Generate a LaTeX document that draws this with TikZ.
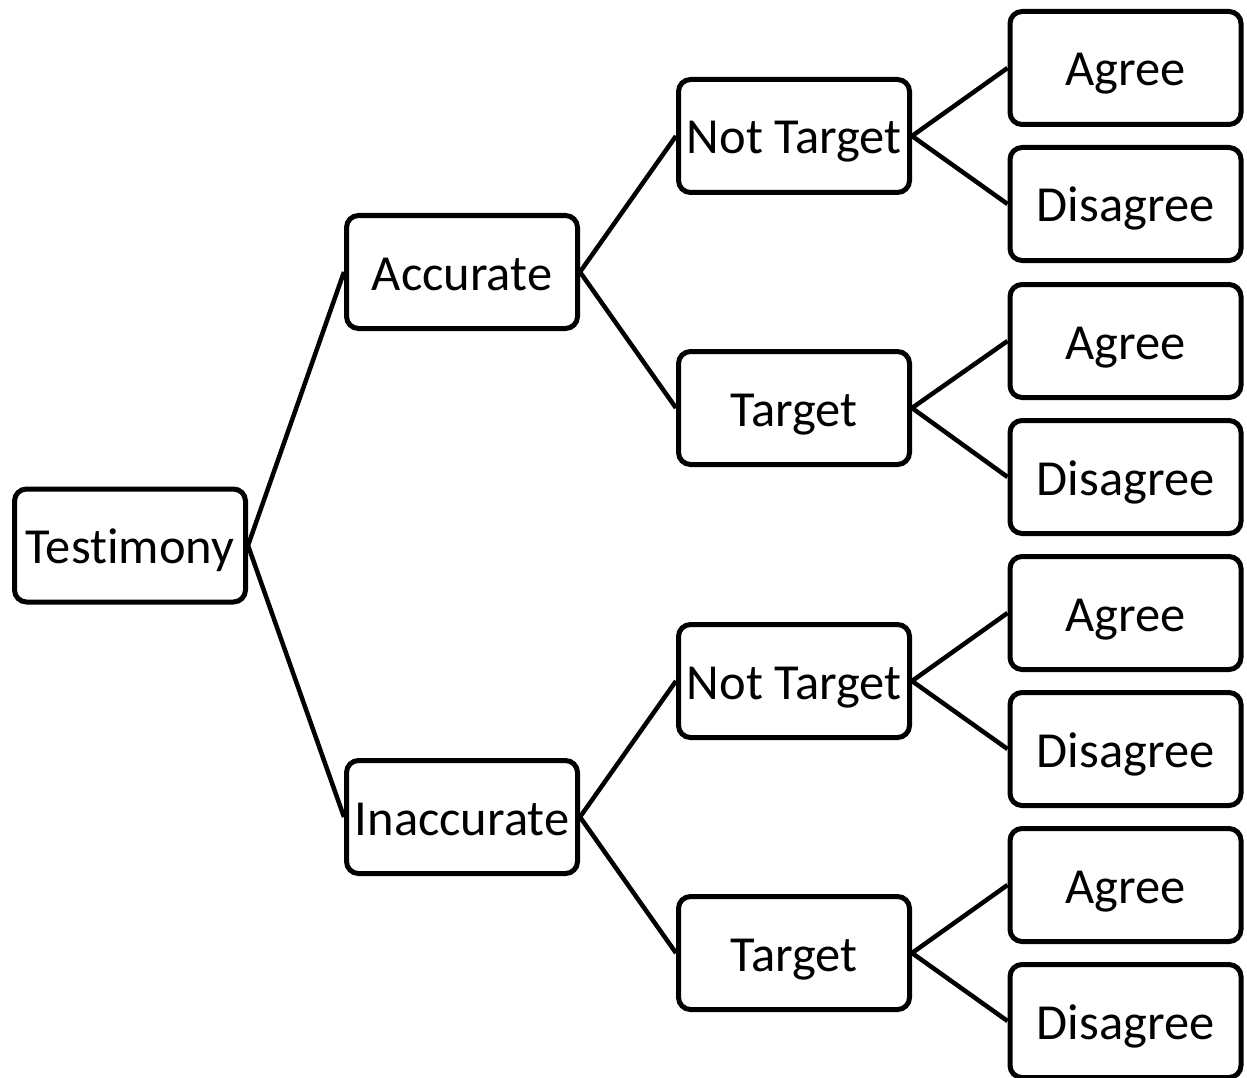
\documentclass[tikz,border=0pt]{standalone}
\usepackage{fontspec}
\setmainfont{Carlito}[Ligatures=NoCommon]
\begin{document}
\begin{tikzpicture}[x=1pt,y=-1pt,
  box/.style={draw=black,line width=5pt,rounded corners=12pt,fill=white,
    minimum width=231pt,minimum height=113pt,inner sep=0pt,
    text height=44pt,text depth=8pt,
    font=\fontsize{50.5}{54}\selectfont},
  link/.style={line width=4.5pt}]
\useasboundingbox (0,0) rectangle (1247,1078);
\node[box] (t) at (130,545.5) {Testimony};
\node[box] (a) at (462,272) {Accurate};
\node[box] (i) at (462,817) {Inaccurate};
\node[box] (an) at (794,136) {Not Target};
\node[box] (at) at (794,408) {Target};
\node[box] (in) at (794,681) {Not Target};
\node[box] (it) at (794,953) {Target};
\node[box] (l1) at (1125.5,68) {Agree};
\node[box] (l2) at (1125.5,204) {Disagree};
\node[box] (l3) at (1125.5,341) {Agree};
\node[box] (l4) at (1125.5,477) {Disagree};
\node[box] (l5) at (1125.5,613) {Agree};
\node[box] (l6) at (1125.5,749) {Disagree};
\node[box] (l7) at (1125.5,885) {Agree};
\node[box] (l8) at (1125.5,1021) {Disagree};
\draw[link] (t.east) -- (a.west);
\draw[link] (t.east) -- (i.west);
\draw[link] (a.east) -- (an.west);
\draw[link] (a.east) -- (at.west);
\draw[link] (i.east) -- (in.west);
\draw[link] (i.east) -- (it.west);
\draw[link] (an.east) -- (l1.west);
\draw[link] (an.east) -- (l2.west);
\draw[link] (at.east) -- (l3.west);
\draw[link] (at.east) -- (l4.west);
\draw[link] (in.east) -- (l5.west);
\draw[link] (in.east) -- (l6.west);
\draw[link] (it.east) -- (l7.west);
\draw[link] (it.east) -- (l8.west);
\end{tikzpicture}
\end{document}
